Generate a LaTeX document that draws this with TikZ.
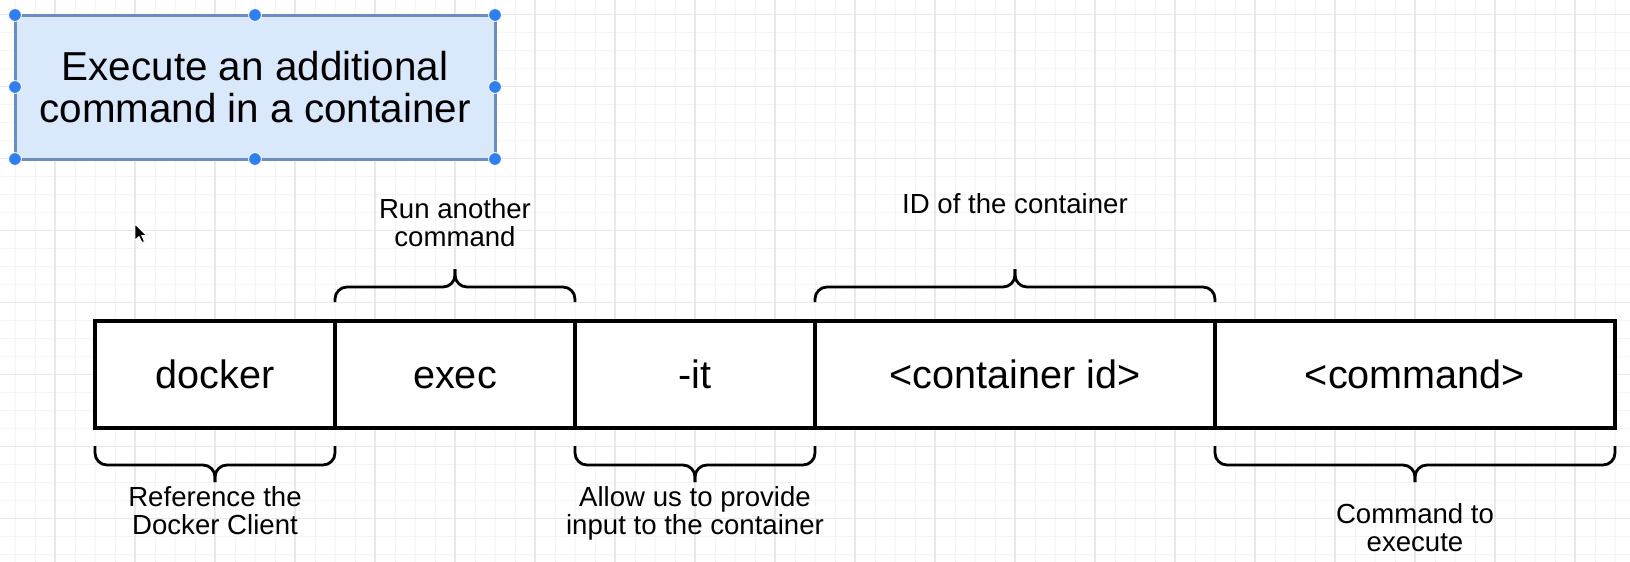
\documentclass[tikz,border=0pt]{standalone}
\usepackage{fontspec}
\setmainfont{Liberation Sans}
\usetikzlibrary{positioning,calc}

\definecolor{boxfill}{HTML}{DAE8FC}
\definecolor{boxline}{HTML}{6C8EBF}
\definecolor{handle}{HTML}{2F7FF0}
\definecolor{gridminor}{HTML}{F4F4F4}
\definecolor{gridmajor}{HTML}{E8E8E8}

\newcommand{\bracetop}[1]{%
	\draw[brace] (#1.north west) ++(0,-19) |- ($(#1.north)+(0,-34)$) -- ++(0,-18);
	\draw[brace] (#1.north east) ++(0,-19) |- ($(#1.north)+(0,-34)$) -- ++(0,-18);}
\newcommand{\bracebot}[1]{%
	\draw[brace] (#1.south west) ++(0,18) |- ($(#1.south)+(0,37)$) -- ++(0,17);
	\draw[brace] (#1.south east) ++(0,18) |- ($(#1.south)+(0,37)$) -- ++(0,17);}

\begin{document}
\begin{tikzpicture}[x=0.5pt,y=-0.5pt,
	cell/.style={draw,fill=white,line width=1.7pt,inner sep=0,outer sep=0,minimum height=53.5pt,text height=14pt,text depth=0.5pt,font=\fontsize{19.8}{21}\selectfont},
	lbl/.style={inner sep=0,outer sep=0,align=center,font=\fontsize{13.8}{14.2}\selectfont},
	brace/.style={line width=1.4pt,rounded corners=6pt}]
	\useasboundingbox (0,0) rectangle (1630,562);
	\fill[white] (0,0) rectangle (1630,562);
	% grid
	\foreach \gx in {15,35,...,1615} \draw[gridminor,line width=0.5pt] (\gx,0) -- (\gx,562);
	\foreach \gy in {14.3,32.3,...,555} \draw[gridminor,line width=0.5pt] (0,\gy) -- (1630,\gy);
	\foreach \gx in {55,135,...,1575} \draw[gridmajor,line width=0.6pt] (\gx,0) -- (\gx,562);
	\foreach \gy in {14.3,86.3,...,519} \draw[gridmajor,line width=0.6pt] (0,\gy) -- (1630,\gy);

	% title box, selected
	\node[draw=boxline,fill=boxfill,line width=1.5pt,minimum width=240pt,minimum height=72pt,inner sep=0,outer sep=0,align=center,font=\fontsize{20.2}{20.8}\selectfont] (title) at (255,87) {Execute an additional\\command in a container};
	\foreach \a in {north west,north,north east,east,south east,south,south west,west}
		\filldraw[fill=handle,draw=white,line width=0.4pt] (title.\a) circle (3.2pt);

	% the command
	\node[cell,minimum width=120pt] (docker) at (215,374.5) {docker};
	\node[cell,minimum width=120pt,right=0pt of docker] (exec) {exec};
	\node[cell,minimum width=120pt,right=0pt of exec] (it) {-it};
	\node[cell,minimum width=200pt,right=0pt of it] (cid) {<container id>};
	\node[cell,minimum width=200pt,right=0pt of cid] (cmd) {<command>};

	\bracetop{exec}
	\bracetop{cid}
	\bracebot{docker}
	\bracebot{it}
	\bracebot{cmd}

	\node[lbl,above=37pt of exec] (runlbl) {Run another\\command};
	\node[lbl,above=53.8pt of cid] (idlbl) {ID of the container};
	\node[lbl,below=29pt of docker] (reflbl) {Reference the\\Docker Client};
	\node[lbl,below=29pt of it] (itlbl) {Allow us to provide\\input to the container};
	\node[lbl,below=37.5pt of cmd] (cmdlbl) {Command to\\execute};

	% mouse pointer
	\filldraw[fill=black,draw=white,line width=0.4pt] (135,224) -- ++(0,16) -- ++(4,-3.5) -- ++(3,6) -- ++(2.5,-1) -- ++(-2.8,-6) -- ++(4.8,0) -- cycle;
\end{tikzpicture}
\end{document}
